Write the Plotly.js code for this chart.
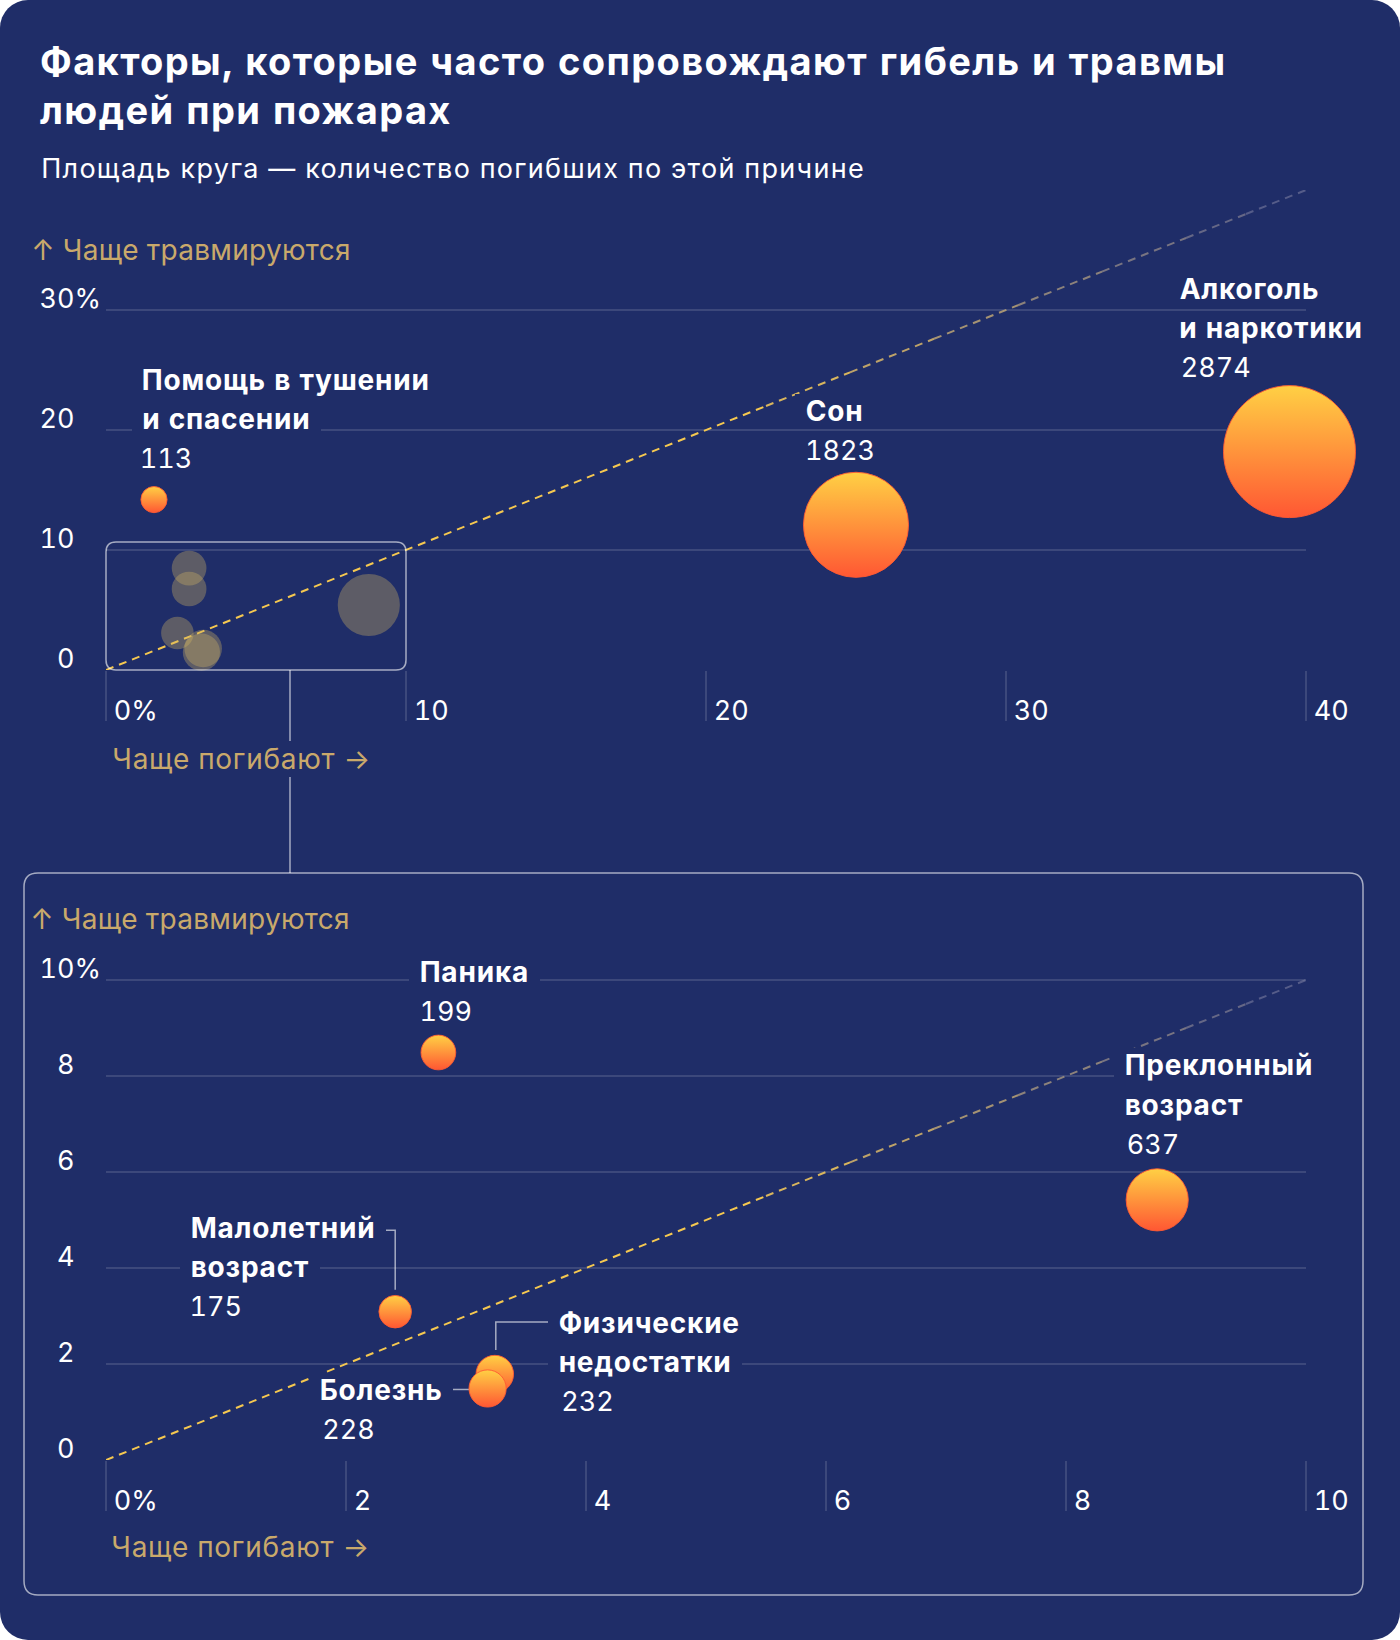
<!DOCTYPE html>
<html><head><meta charset="utf-8">
<script src="https://cdn.plot.ly/plotly-3.0.1.min.js"></script>
<style>
html,body{margin:0;padding:0;background:#ffffff;}
#chart{width:1400px;height:1640px;border-radius:28px;overflow:hidden;}
#chart svg text{font-feature-settings:"tnum" 1;}
</style></head><body><div id="chart"></div>
<script>
// ---------------- DATA ----------------
const topNames = [["Помощь в тушении","и спасении"],["Сон"],["Алкоголь","и наркотики"]];
const topDeathShare  = [1.6, 25.0, 39.45];   // % of deaths
const topInjuryShare = [14.2, 12.1, 18.2];   // % of injuries
const topDeaths      = [113, 1823, 2874];

// overview bubbles inside the zoom box of the top chart
const zoomDeathShare  = [2.77, 2.77, 2.38, 3.24, 3.18, 8.76];
const zoomInjuryShare = [8.49, 6.75, 3.09, 1.79, 1.49, 5.42];
const zoomDeaths      = [199, 199, 175, 232, 228, 637];

const lowNames = [["Паника"],["Преклонный","возраст"],["Малолетний","возраст"],["Физические","недостатки"],["Болезнь"]];
const lowDeathShare  = [2.77, 8.76, 2.41, 3.24, 3.18];
const lowInjuryShare = [8.49, 5.42, 3.09, 1.79, 1.49];
const lowDeaths      = [199, 637, 175, 232, 228];

const topXTicks = [0,10,20,30,40];   const topXLabels = ["0%","10","20","30","40"];
const topYTicks = [0,10,20,30];      const topYLabels = ["0","10","20","30%"];
const lowXTicks = [0,2,4,6,8,10];    const lowXLabels = ["0%","2","4","6","8","10"];
const lowYTicks = [0,2,4,6,8,10];    const lowYLabels = ["0","2","4","6","8","10%"];

const topRange  = [0,40];
const lowXRange = [0,10];
const lowYRange = [0,10.67];

// ---------------- STYLE / GEOMETRY ----------------
const W=1400, H=1640;
const BG='#1f2d68', GRID='rgba(255,255,255,0.13)', GOLD='#c9a96b', WHITE='#ffffff';
const FONT='Inter, "Noto Sans", sans-serif';
const FS=27, FSB=28, LINE=39.5, PADX=11, NUMSHIFT=3;
const PAD='<span style="letter-spacing:4px">\u00A0</span>';
const SIZEREF=0.33;
const plotL=106, plotR=1306;
const topBottom=670, topPxY=12;
const lowBottom=1460, lowPxY=48;
const topTopPx = topBottom-(topRange[1]-topRange[0])*topPxY;
const lowTopPx = lowBottom-(lowYRange[1]-lowYRange[0])*lowPxY;
const pxX = v=>v/W, pxY = v=>1-v/H;
const ls = (t,px)=>`<span style="letter-spacing:${px}px">${t}</span>`;

function hidePct(lbls){ return lbls.map(s=> s.indexOf('%')>=0 ? s : s+'<span style="color:rgba(0,0,0,0)">%</span>'); }

function xAxis(range, tv, tt, yname, dom){
  return {domain:dom, range:range, anchor:yname, showgrid:false, zeroline:false, showline:false,
    ticks:'outside', ticklen:50, tickwidth:1.5, tickcolor:GRID, tickmode:'array', tickvals:tv, ticktext:tt,
    tickfont:{family:FONT,size:FS,color:WHITE}, ticklabelposition:'outside right',
    ticklabelstandoff:17, ticklabelshift:7, fixedrange:true};
}
function yAxis(range, tv, tt, xname, dom){
  return {domain:dom, range:range, anchor:xname, showgrid:true, gridcolor:GRID, gridwidth:1.5,
    zeroline:false, showline:false, ticks:'', tickmode:'array', tickvals:tv, ticktext:hidePct(tt),
    tickfont:{family:FONT,size:FS,color:WHITE}, ticklabelshift:-11, ticklabelstandoff:4, fixedrange:true};
}

function lerp(a,b,t){return a+(b-a)*t;}
function diagTraces(maxV, xa, ya){
  const stops=[0,0.55,0.62,0.69,0.76,0.83,0.9,0.95,1];
  const c0=[245,200,80,1], c1=[140,140,170,0.5];
  const out=[];
  for(let i=0;i<stops.length-1;i++){
    const t = i===0?0:(i/(stops.length-2));
    const c=c0.map((v,k)=>lerp(v,c1[k],t));
    const a=stops[i]*maxV, b=stops[i+1]*maxV;
    out.push({type:'scatter',mode:'lines',x:[a,b],y:[a,b],xaxis:xa,yaxis:ya,hoverinfo:'skip',
      line:{color:`rgba(${c[0]|0},${c[1]|0},${c[2]|0},${c[3].toFixed(2)})`,width:2,dash:'8px,6px'}});
  }
  return out;
}
function bubbles(x,y,n,xa,ya,hot){
  const m = hot ? {color:'#ffd044', gradient:{type:'vertical',color:'#ff5733'}, line:{width:1,color:'rgba(255,90,50,0.9)'}}
                : {color:'rgba(205,178,100,0.36)', line:{width:0}};
  m.size=n; m.sizemode='area'; m.sizeref=SIZEREF; m.opacity=1;
  return {type:'scatter',mode:'markers',x:x,y:y,xaxis:xa,yaxis:ya,marker:m,hoverinfo:'skip',cliponaxis:false};
}

const topLabelPos=[{dx:-11,dy:120},{dx:-50.5,dy:114},{dx:-109.5,dy:162.7}];
const lowLabelPos=[{dx:-18.5,dy:80.5},{dx:-32,dy:134.5},{dx:-204.5,dy:84},{dx:64.4,dy:51.5},{dx:-168,dy:-2}];

function labelAnns(names,xs,ys,ns,pos,xref,yref){
  const anns=[];
  names.forEach((lines,i)=>{
    const all=lines.map(t=>({t:ls(t,0.8),b:700,s:FSB,sh:0})).concat([{t:String(ns[i]),b:400,s:FS,sh:NUMSHIFT}]);
    all.forEach((ln,j)=>{
      anns.push({xref:xref,yref:yref,x:xs[i],y:ys[i],xanchor:'left',yanchor:'middle',
        xshift:pos[i].dx-PADX+ln.sh, yshift:pos[i].dy-j*LINE, text:PAD+ln.t+PAD, showarrow:false,
        bgcolor:BG, borderpad:0, borderwidth:0,
        font:{family:FONT,size:ln.s,color:WHITE,weight:ln.b}});
    });
  });
  return anns;
}

function roundRectPath(x0,y0,x1,y1,r){ // px in, paper path out
  const X=pxX, Y=pxY;
  return `M ${X(x0+r)},${Y(y0)} L ${X(x1-r)},${Y(y0)} Q ${X(x1)},${Y(y0)} ${X(x1)},${Y(y0+r)} `+
         `L ${X(x1)},${Y(y1-r)} Q ${X(x1)},${Y(y1)} ${X(x1-r)},${Y(y1)} L ${X(x0+r)},${Y(y1)} `+
         `Q ${X(x0)},${Y(y1)} ${X(x0)},${Y(y1-r)} L ${X(x0)},${Y(y0+r)} Q ${X(x0)},${Y(y0)} ${X(x0+r)},${Y(y0)} Z`;
}
// zoom box in top-chart pixel space, derived from lower chart ranges
const pxPerTopX=(plotR-plotL)/(topRange[1]-topRange[0]);
const zb={x0:plotL+lowXRange[0]*pxPerTopX, x1:plotL+lowXRange[1]*pxPerTopX,
          y0:topBottom-lowYRange[1]*topPxY, y1:topBottom-lowYRange[0]*topPxY};

const data=[].concat(
  diagTraces(topRange[1],'x','y'),
  diagTraces(lowXRange[1],'x2','y2'),
  [bubbles(zoomDeathShare,zoomInjuryShare,zoomDeaths,'x','y',false),
   bubbles(topDeathShare,topInjuryShare,topDeaths,'x','y',true),
   bubbles(lowDeathShare,lowInjuryShare,lowDeaths,'x2','y2',true)]
);

const LC='rgba(255,255,255,0.6)';
const shapes=[
  {type:'path',xref:'paper',yref:'paper',path:roundRectPath(zb.x0,zb.y0,zb.x1,zb.y1,10),line:{color:LC,width:1.5},layer:'above'},
  {type:'line',xref:'paper',yref:'paper',x0:pxX(290),x1:pxX(290),y0:pxY(zb.y1),y1:pxY(873),line:{color:LC,width:1.5},layer:'above'},
  {type:'path',xref:'paper',yref:'paper',path:roundRectPath(24,873,1363,1595,14),line:{color:LC,width:1.5},layer:'below'},
  // leader lines (pixel offsets from bubble centres)
  {type:'path',xref:'x2',yref:'y2',xsizemode:'pixel',ysizemode:'pixel',xanchor:lowDeathShare[2],yanchor:lowInjuryShare[2],
    path:'M -12.5,81.5 L 0,81.5 L 0,22',line:{color:LC,width:1.5},layer:'above'},
  {type:'path',xref:'x2',yref:'y2',xsizemode:'pixel',ysizemode:'pixel',xanchor:lowDeathShare[3],yanchor:lowInjuryShare[3],
    path:'M 1,24 L 1,52 L 56,52',line:{color:LC,width:1.5},layer:'between'},
  {type:'path',xref:'x2',yref:'y2',xsizemode:'pixel',ysizemode:'pixel',xanchor:lowDeathShare[4],yanchor:lowInjuryShare[4],
    path:'M -37.5,-1 L -18,-1',line:{color:LC,width:1.5},layer:'between'}
];

const goldFont={family:FONT,size:28,color:GOLD};
const annotations=[
  {xref:'paper',yref:'paper',x:pxX(40),y:pxY(169),xanchor:'left',yanchor:'middle',showarrow:false,borderpad:0,borderwidth:0,
    text:ls('Площадь круга — количество погибших по этой причине',1.3),font:{family:FONT,size:27,color:WHITE}},
  {xref:'paper',yref:'paper',x:pxX(31),y:pxY(250),xanchor:'left',yanchor:'middle',showarrow:false,borderpad:0,borderwidth:0,
    text:ls('↑ Чаще травмируются',0.3),font:goldFont},
  {xref:'paper',yref:'paper',x:pxX(111),y:pxY(759),xanchor:'left',yanchor:'middle',showarrow:false,borderpad:1,borderwidth:0,bgcolor:BG,
    text:ls('Чаще погибают →',0.7),font:goldFont},
  {xref:'paper',yref:'paper',x:pxX(30),y:pxY(919),xanchor:'left',yanchor:'middle',showarrow:false,borderpad:0,borderwidth:0,
    text:ls('↑ Чаще травмируются',0.3),font:goldFont},
  {xref:'paper',yref:'paper',x:pxX(110),y:pxY(1547),xanchor:'left',yanchor:'middle',showarrow:false,borderpad:1,borderwidth:0,bgcolor:BG,
    text:ls('Чаще погибают →',0.7),font:goldFont}
].concat(
  labelAnns(topNames,topDeathShare,topInjuryShare,topDeaths,topLabelPos,'x','y'),
  labelAnns(lowNames,lowDeathShare,lowInjuryShare,lowDeaths,lowLabelPos,'x2','y2')
);

const layout={
  width:W,height:H,margin:{l:0,r:0,t:0,b:0},paper_bgcolor:BG,plot_bgcolor:'rgba(0,0,0,0)',showlegend:false,
  title:{text:ls('Факторы, которые часто сопровождают гибель и травмы',1.4)+'<br>'+ls('людей при пожарах',1.4),
    x:pxX(40),xanchor:'left',xref:'paper',
    y:1-75/H,yanchor:'top',yref:'container',font:{family:FONT,size:38,color:WHITE,weight:700},pad:{t:0,b:0,l:0,r:0}},
  xaxis:xAxis(topRange,topXTicks,topXLabels,'y',[pxX(plotL),pxX(plotR)]),
  yaxis:yAxis(topRange,topYTicks,topYLabels,'x',[pxY(topBottom),pxY(topTopPx)]),
  xaxis2:xAxis(lowXRange,lowXTicks,lowXLabels,'y2',[pxX(plotL),pxX(plotR)]),
  yaxis2:yAxis(lowYRange,lowYTicks,lowYLabels,'x2',[pxY(lowBottom),pxY(lowTopPx)]),
  shapes:shapes,annotations:annotations
};
Plotly.newPlot('chart',data,layout,{displayModeBar:false,staticPlot:true});
</script></body></html>
